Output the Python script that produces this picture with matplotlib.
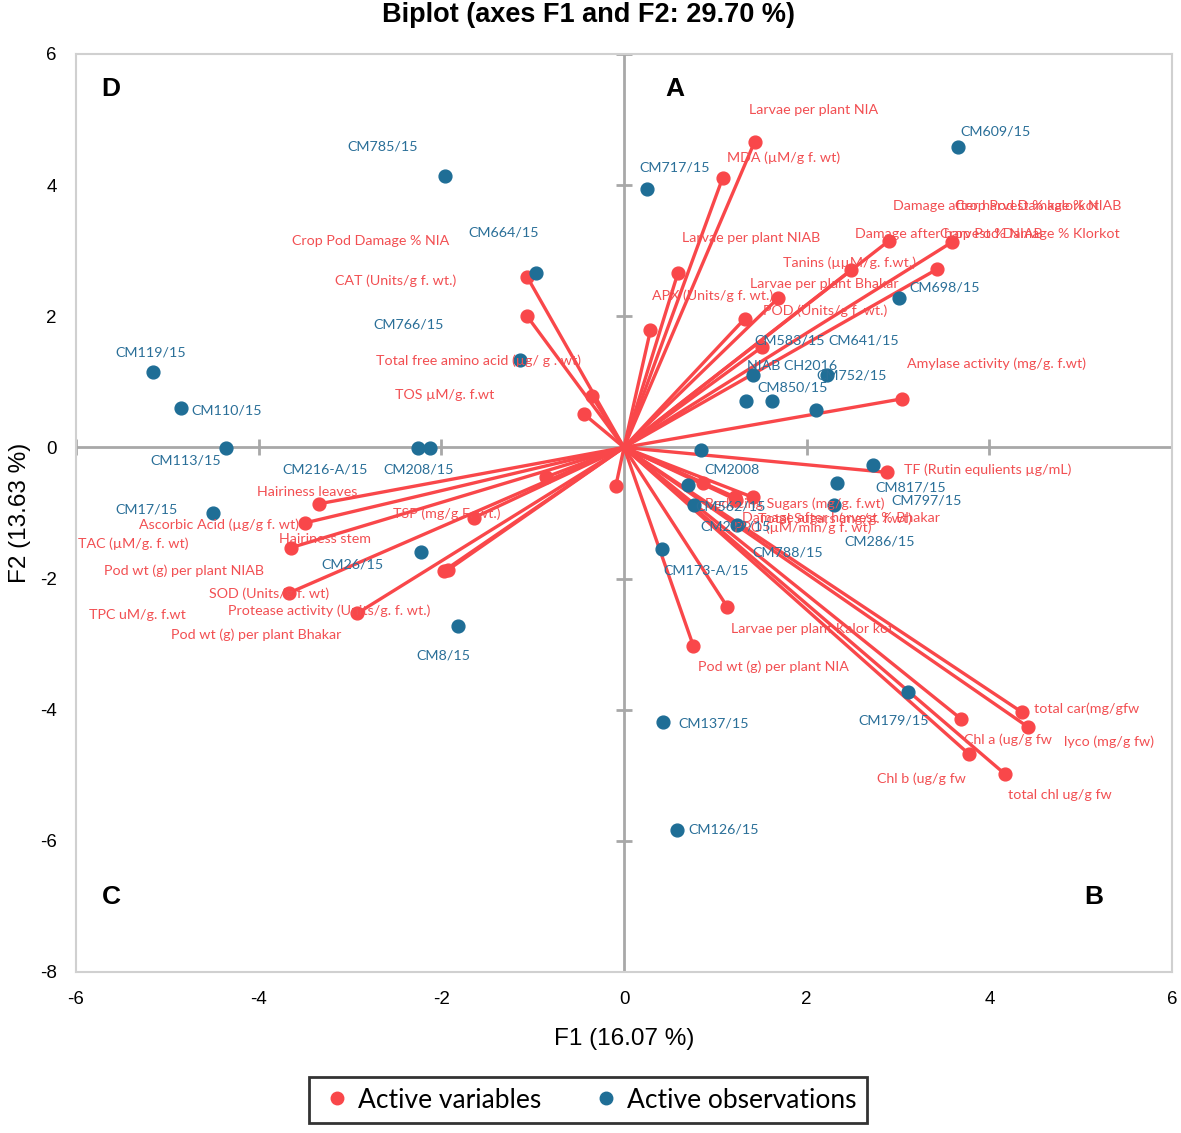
import numpy as np
import matplotlib.pyplot as plt
from matplotlib.lines import Line2D

plt.rcParams["axes.unicode_minus"] = False

# variables (loadings scaled)
var_names = [
    "Larvae per plant NIA", "MDA (µM/g f. wt)", "Larvae per plant NIAB",
    "APX (Units/g f. wt.)", "POD (Units/g f. wt.)", "Larvae per plant Bhakar",
    "Tanins (µµM/g. f.wt.)", "Damage after harvest % NIAB", "Crop Pod Damage % Klorkot",
    "Damage after harvest % kalorkot", "Crop Pod Damage % NIAB",
    "Amylase activity (mg/g. f.wt)",
    "Crop Pod Damage % NIA", "CAT (Units/g f. wt.)",
    "Total free amino acid (µg/ g . wt)", "TOS µM/g. f.wt",
    "Hairiness leaves", "Ascorbic Acid (µg/g f. wt)", "TAC (µM/g. f. wt)",
    "SOD (Units/g f. wt)", "Protease activity (Units/g. f. wt.)", "TSP (mg/g F. wt.)",
    "Pod wt (g) per plant NIAB", "TPC uM/g. f.wt", "Hairiness stem",
    "Pod wt (g) per plant Bhakar",
    "TF (Rutin equlients µg/mL)", "Reducing Sugars (mg/g. f.wt)",
    "Total Sugars (mg/g. f.wt)", "Damage after harvest % Bhakar",
    "PPO (µM/min/g f. wt)", "Larvae per plant Kalor kot", "Pod wt (g) per plant NIA",
    "total car(mg/gfw", "lyco (mg/g fw)", "Chl a (ug/g fw", "Chl b (ug/g fw",
    "total chl ug/g fw",
]
var_f1 = [1.43, 1.08, 0.59, 0.29, 1.32, 1.69, 2.49, 2.90, 3.59, 3.43, 1.51, 3.04,
          -1.06, -1.06, -0.35, -0.44,
          -3.34, -3.49, -3.65, -3.67, -2.92, -1.64, -1.97, -1.93, -0.85, -0.09,
          2.88, 1.41, 1.22, 0.86, 1.23, 1.13, 0.76, 4.36, 4.42, 3.69, 3.78, 4.17]
var_f2 = [4.66, 4.11, 2.66, 1.79, 1.96, 2.28, 2.71, 3.15, 3.13, 2.72, 1.53, 0.74,
          2.60, 2.00, 0.78, 0.51,
          -0.86, -1.15, -1.53, -2.22, -2.53, -1.07, -1.88, -1.87, -0.45, -0.59,
          -0.38, -0.76, -0.76, -0.54, -0.80, -2.43, -3.03, -4.04, -4.26, -4.14, -4.68, -4.98]

# observations (genotypes)
obs_names = [
    "CM609/15", "CM717/15", "CM785/15", "CM664/15", "CM766/15", "CM119/15",
    "CM110/15", "CM113/15", "CM216-A/15", "CM208/15", "CM17/15", "CM26/15",
    "CM8/15", "CM698/15", "CM583/15", "CM641/15", "NIAB CH2016", "CM850/15",
    "CM752/15", "CM2008", "CM562/15", "CM299/15", "CM788/15", "CM817/15",
    "CM797/15", "CM286/15", "CM173-A/15", "CM179/15", "CM137/15", "CM126/15",
]
obs_f1 = [3.66, 0.25, -1.96, -0.96, -1.14, -5.16, -4.85, -4.36, -2.26, -2.12,
          -4.50, -2.22, -1.82, 3.01, 1.41, 2.22, 1.34, 1.62, 2.10, 0.84,
          0.77, 1.24, 0.70, 2.73, 2.33, 2.30, 0.42, 3.11, 0.43, 0.58]
obs_f2 = [4.58, 3.94, 4.14, 2.66, 1.33, 1.15, 0.60, -0.01, -0.01, -0.01,
          -1.00, -1.60, -2.72, 2.28, 1.10, 1.10, 0.71, 0.71, 0.57, -0.04,
          -0.88, -1.18, -0.57, -0.27, -0.54, -0.88, -1.55, -3.73, -4.19, -5.83]

# label placement, pixel offsets from the point (x right, y up)
var_off = [(59, 32), (61, 20), (73, 35), (62, 34), (81, 8), (46, 14),
           (-2, 7), (60, 7), (78, 8), (59, 63), (276, 141), (95, 35),
           (-157, 36), (-132, 36), (-114, 36), (-139, 19),
           (-12, 12), (-86, -2), (-157, 4), (-20, -1), (-28, 3), (-27, 4),
           (-260, 0), (-310, -45), (-221, -62), (-360, -149),
           (101, 3), (42, -6), (100, -21), (138, -35), (66, -28), (85, -22),
           (80, -21), (64, 4), (81, -15), (47, -21), (-48, -24), (55, -21)]
obs_off = [(37, 16), (28, 22), (-62, 29), (-33, 41), (-111, 36), (-2, 20),
           (46, -2), (-40, -12), (-93, -21), (-12, -21), (-66, 4), (-69, -12),
           (-14, -30), (46, 10), (37, 35), (37, 35), (46, 35), (21, 13),
           (36, 35), (31, -20), (36, -1), (-2, -2), (100, -68), (37, -22),
           (90, -18), (46, -36), (44, -21), (-14, -28), (50, -1), (47, 0)]

red = "#F9474A"
red_txt = "#F24F52"
blue = "#1F6E96"
blue_txt = "#2A6F98"
lab_font = ["Lato", "DejaVu Sans"]

fig = plt.figure(figsize=(11.81, 11.33), dpi=100)
ax = fig.add_axes([76/1181, 1 - 972/1133, 1096/1181, 918/1133])
ax.set_xlim(-6, 6)
ax.set_ylim(-8, 6)
ax.set_xticks(np.arange(-6, 7, 2))
ax.set_yticks(np.arange(-8, 7, 2))
ax.tick_params(length=0, labelsize=13.5, pad=14)
for lab in ax.get_xticklabels() + ax.get_yticklabels():
    lab.set_fontfamily("Liberation Sans")
for s in ax.spines.values():
    s.set_color("#D0D0D0")
    s.set_linewidth(1.5)

# axes through the origin, with their little ticks
ax.axhline(0, color="#A8A8A8", lw=2, zorder=1)
ax.axvline(0, color="#A8A8A8", lw=2, zorder=1)
yt = [t for t in ax.get_yticks() if t != 0]
xt = [t for t in ax.get_xticks() if t != 0]
ax.plot(np.zeros(len(yt)), yt, ls="none", marker="_", ms=12, mew=2, color="#A8A8A8", zorder=1)
ax.plot(xt, np.zeros(len(xt)), ls="none", marker="|", ms=12, mew=2, color="#A8A8A8", zorder=1)

# vectors
for x, y in zip(var_f1, var_f2):
    ax.plot([0, x], [0, y], color=red, lw=2.4, solid_capstyle="round", zorder=2)
ax.scatter(var_f1, var_f2, s=85, color=red, zorder=3)
ax.scatter(obs_f1, obs_f2, s=85, color=blue, zorder=3)

for name, x, y, (dx, dy) in zip(var_names, var_f1, var_f2, var_off):
    ax.annotate(name, (x, y), xytext=(dx, dy), textcoords="offset pixels",
                ha="center", va="center", fontsize=10.3, color=red_txt,
                family=lab_font, zorder=4)
for name, x, y, (dx, dy) in zip(obs_names, obs_f1, obs_f2, obs_off):
    ax.annotate(name, (x, y), xytext=(dx, dy), textcoords="offset pixels",
                ha="center", va="center", fontsize=10.3, color=blue_txt,
                family=lab_font, zorder=4)

# quadrant letters
for letter, qx, qy in [("A", 0.546, 0.962), ("B", 0.929, 0.082), ("C", 0.032, 0.082), ("D", 0.032, 0.962)]:
    ax.text(qx, qy, letter, transform=ax.transAxes, fontsize=19, fontweight="bold",
            family="Liberation Sans", ha="center", va="center")

ax.set_xlabel("F1 (16.07 %)", fontsize=17.5, family="Liberation Sans", labelpad=14)
ax.set_ylabel("F2 (13.63 %)", fontsize=17.5, family="Liberation Sans", labelpad=6)
fig.suptitle("Biplot (axes F1 and F2: 29.70 %)", x=589/1181, y=1 - 15/1133,
             va="center", fontsize=19.5, fontweight="bold", family="Liberation Sans")

handles = [Line2D([], [], ls="none", marker="o", ms=9, color=red),
           Line2D([], [], ls="none", marker="o", ms=9, color=blue)]
leg = fig.legend(handles, ["Active variables", "Active observations"], ncol=2,
                 loc="center", bbox_to_anchor=(588/1181, 1 - 1100/1133),
                 prop={"family": lab_font, "size": 19}, frameon=True, fancybox=False,
                 handletextpad=0.15, columnspacing=1.8, borderpad=0.4, handlelength=1.3,
                 borderaxespad=0)
leg.get_frame().set_edgecolor("black")
leg.get_frame().set_linewidth(2)

fig.savefig("out.png", dpi=100)
